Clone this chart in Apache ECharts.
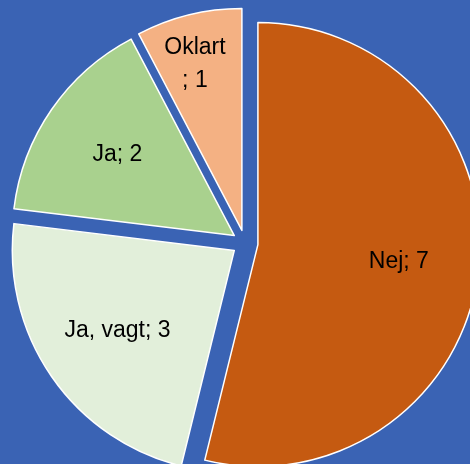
<!DOCTYPE html>
<html>
<head>
<meta charset="utf-8">
<script src="https://cdn.jsdelivr.net/npm/echarts@6/dist/echarts.min.js"></script>
<style>
  html, body { margin: 0; padding: 0; background: #3A63B4; }
  #chart { width: 470px; height: 464px; }
</style>
</head>
<body>
<div id="chart"></div>
<script>
// svar och antal
const categories = ['Nej', 'Ja, vagt', 'Ja', 'Oklart'];
const counts = [7, 3, 2, 1];
const sliceColors = ['#C55A11', '#E2EFDA', '#A9D18E', '#F4B183'];

const chart = echarts.init(document.getElementById('chart'));

const total = counts.reduce((a, b) => a + b, 0);

// tårtbitar (alla utdragna)
const pieData = categories.map((name, i) => ({
    name: name,
    value: counts[i],
    selected: true,
    itemStyle: { color: sliceColors[i] }
}));

// etiketter ritas i en osynlig serie så att de hamnar ca 60% ut
const labelData = categories.map((name, i) => {
    const item = { name: name, value: counts[i], selected: true };
    if (counts[i] / total < 0.1) {
        // smal bit: texten bryts och flyttas utåt (tom rad under)
        item.label = {
            formatter: '{t|{b}}\n{t|; {c}}\n{gap| }',
            padding: [0, 26, 0, 0],
            rich: {
                t: { lineHeight: 33, fontSize: 23, fontFamily: 'Liberation Sans', color: '#000000' },
                gap: { lineHeight: 56, fontSize: 10 }
            }
        };
    }
    return item;
});

const common = {
    type: 'pie',
    center: [245, 243],
    startAngle: 90,
    clockwise: true,
    selectedMode: 'multiple',
    selectedOffset: 13,
    animation: false,
    labelLine: { show: false }
};

const option = {
    backgroundColor: '#3A63B4',
    series: [
        Object.assign({}, common, {
            radius: [0, 222],
            data: pieData,
            label: { show: false },
            itemStyle: { borderColor: '#ffffff', borderWidth: 1.5 },
            select: { itemStyle: { borderColor: '#ffffff', borderWidth: 1.5 } },
            emphasis: { disabled: true }
        }),
        Object.assign({}, common, {
            radius: [92, 186],
            data: labelData,
            silent: true,
            itemStyle: { color: 'transparent', borderWidth: 0 },
            select: { itemStyle: { color: 'transparent', borderWidth: 0 } },
            emphasis: { disabled: true },
            label: {
                show: true,
                position: 'inside',
                formatter: '{b}; {c}',
                color: '#000000',
                fontFamily: 'Liberation Sans',
                fontSize: 23
            }
        })
    ]
};

chart.setOption(option);
</script>
</body>
</html>
